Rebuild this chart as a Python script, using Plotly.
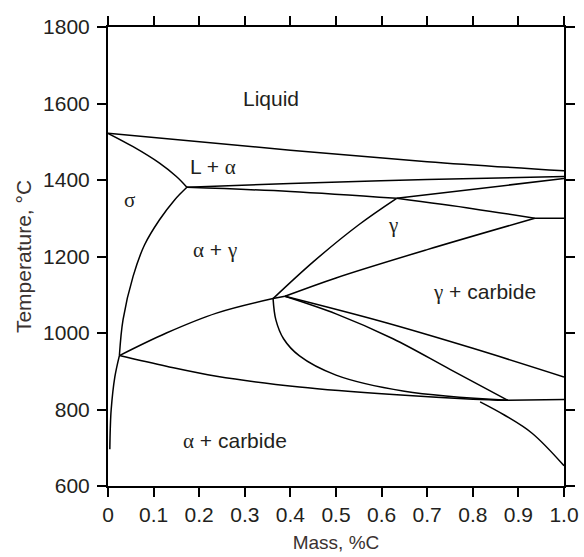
import plotly.graph_objects as go

# ---- data ----
liquidus_x = [0.0, 0.4, 0.7, 1.0]
liquidus_y = [1522, 1478, 1448, 1424]

solidus_x = [0.0, 0.055, 0.113, 0.15, 0.173]
solidus_y = [1522, 1487, 1444, 1409, 1381]

l_gamma_x = [0.173, 0.4, 0.7, 1.0]
l_gamma_y = [1381, 1391, 1401, 1409]

peri_gamma_x = [0.173, 0.4, 0.633]
peri_gamma_y = [1381, 1370, 1352]

gamma_top_right_x = [0.633, 0.8, 0.936]
gamma_top_right_y = [1352, 1325, 1300]

gamma_flat_x = [0.936, 1.0]
gamma_flat_y = [1300, 1300]

gamma_peak_up_x = [0.633, 1.0]
gamma_peak_up_y = [1352, 1404]

gamma_left_x = [0.362, 0.45, 0.55, 0.633]
gamma_left_y = [1090, 1186, 1283, 1352]

gamma_low_x = [0.362, 0.388]
gamma_low_y = [1090, 1096]

gamma_low2_x = [0.388, 0.5, 0.7, 0.936]
gamma_low2_y = [1096, 1144, 1218, 1300]

carb_up_x = [0.388, 0.6, 0.8, 1.0]
carb_up_y = [1096, 1030, 960, 885]

carb_low_x = [0.388, 0.5, 0.625, 0.75, 0.877]
carb_low_y = [1096, 1050, 985, 905, 824]

c_curve_x = [0.362, 0.368, 0.385, 0.42, 0.5, 0.65, 0.877]
c_curve_y = [1090, 1035, 985, 940, 890, 848, 824]

eutectoid_x = [0.025, 0.128, 0.238, 0.42, 0.625, 0.8, 0.877]
eutectoid_y = [941, 913, 887, 859, 839, 827, 824]

flat_right_x = [0.877, 1.0]
flat_right_y = [824, 826]

carb_down_x = [0.816, 0.87, 0.93, 1.0]
carb_down_y = [820, 785, 738, 653]

alpha_up_x = [0.025, 0.033, 0.055, 0.08, 0.113, 0.146, 0.173]
alpha_up_y = [941, 1035, 1148, 1230, 1296, 1348, 1381]

alpha_low_x = [0.004, 0.005, 0.007, 0.015, 0.025]
alpha_low_y = [696, 750, 800, 885, 941]

alpha_gamma_low_x = [0.025, 0.128, 0.238, 0.362]
alpha_gamma_low_y = [941, 1000, 1052, 1090]

labels = ["Liquid", "L + α", "σ", "α + γ", "γ", "γ + carbide", "α + carbide"]
label_x = [0.357, 0.23, 0.048, 0.234, 0.624, 0.825, 0.278]
label_y = [1614, 1434, 1347, 1217, 1282, 1108, 717]

x_ticks = [0, 0.1, 0.2, 0.3, 0.4, 0.5, 0.6, 0.7, 0.8, 0.9, 1.0]
x_tick_text = ["0", "0.1", "0.2", "0.3", "0.4", "0.5", "0.6", "0.7", "0.8", "0.9", "1.0"]
y_ticks = [600, 800, 1000, 1200, 1400, 1600, 1800]

curves = [
    (liquidus_x, liquidus_y), (solidus_x, solidus_y), (l_gamma_x, l_gamma_y),
    (peri_gamma_x, peri_gamma_y), (gamma_top_right_x, gamma_top_right_y),
    (gamma_flat_x, gamma_flat_y),
    (gamma_peak_up_x, gamma_peak_up_y), (gamma_left_x, gamma_left_y),
    (gamma_low_x, gamma_low_y), (gamma_low2_x, gamma_low2_y),
    (carb_up_x, carb_up_y), (carb_low_x, carb_low_y),
    (c_curve_x, c_curve_y), (eutectoid_x, eutectoid_y), (flat_right_x, flat_right_y),
    (carb_down_x, carb_down_y),
    (alpha_up_x, alpha_up_y), (alpha_low_x, alpha_low_y),
    (alpha_gamma_low_x, alpha_gamma_low_y),
]

fig = go.Figure()
for cx, cy in curves:
    fig.add_trace(go.Scatter(x=cx, y=cy, mode="lines",
                             line=dict(color="black", width=1.5, shape="spline", smoothing=1.0),
                             hoverinfo="skip", showlegend=False, cliponaxis=False))

SANS = "Liberation Sans, Arial, sans-serif"
SERIF = "Liberation Serif, Times New Roman, serif"
TXT = "#231f20"

def fmt(t):
    out = ""
    for ch in t:
        if ch in "ασγ":
            out += f"<span style='font-family:{SERIF}'>{ch}</span>"
        else:
            out += ch
    return out

for t, lx, ly in zip(labels, label_x, label_y):
    fig.add_annotation(x=lx, y=ly, text=fmt(t), showarrow=False,
                       font=dict(family=SANS, size=21, color=TXT))

axis_common = dict(showline=True, linecolor="black", linewidth=2, mirror="ticks",
                   ticks="outside", ticklen=9, tickwidth=1.5, tickcolor="black",
                   showgrid=False, zeroline=False,
                   tickfont=dict(family=SANS, size=21, color=TXT))

fig.update_xaxes(range=[0, 1.0], tickvals=x_ticks, ticktext=x_tick_text,
                 title=dict(text="Mass, %C", standoff=10,
                            font=dict(family=SANS, size=19, color="#3a3230")),
                 **axis_common)
fig.update_yaxes(range=[600, 1800], tickvals=y_ticks, ticklabelstandoff=3,
                 title=dict(text="Temperature, °C", standoff=6,
                            font=dict(family=SANS, size=21, color="#3a3230")),
                 **axis_common)

fig.update_layout(width=584, height=557, margin=dict(l=108, r=20, t=27, b=71, autoexpand=False),
                  plot_bgcolor="white", paper_bgcolor="white")

fig.write_html("out.html", config={"displayModeBar": False},
               post_script="document.body.style.margin='0';")
